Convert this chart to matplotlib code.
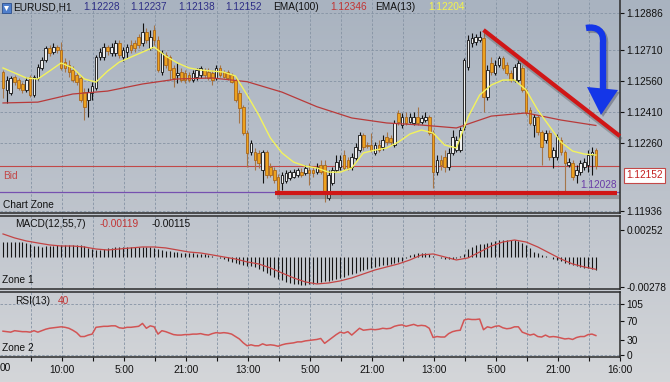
# -*- coding: utf-8 -*-
"""
EURUSD H1 chart, MT4 style: candles with EMA(100) / EMA(13), MACD(12,55,7) pane
and RSI(13) pane, plus the hand-drawn trend lines and arrow.
Writes: out.png (670x382)
"""
import numpy as np
import matplotlib
matplotlib.use("Agg")
import matplotlib.pyplot as plt
import matplotlib.patheffects as pe
from matplotlib.colors import LinearSegmentedColormap
from matplotlib.path import Path
from matplotlib.patches import PathPatch, Polygon, Rectangle

plt.rcParams["font.family"] = ["Liberation Sans", "DejaVu Sans"]

# ---- price data (one H1 bar per entry) ----
open_ = [
    1.12602, 1.12516, 1.12502, 1.12578, 1.12564, 1.12545, 1.12516, 1.12578, 1.12492, 1.12574,
    1.12622, 1.12660, 1.12718, 1.12698, 1.12722, 1.12708, 1.12650, 1.12636, 1.12612, 1.12588,
    1.12574, 1.12506, 1.12468, 1.12502, 1.12526, 1.12674, 1.12674, 1.12722, 1.12694, 1.12694,
    1.12742, 1.12674, 1.12698, 1.12732, 1.12742, 1.12770, 1.12742, 1.12794, 1.12718, 1.12804,
    1.12756, 1.12602, 1.12684, 1.12674, 1.12622, 1.12588, 1.12602, 1.12598, 1.12588, 1.12564,
    1.12578, 1.12588, 1.12612, 1.12602, 1.12598, 1.12574, 1.12622, 1.12602, 1.12602, 1.12588,
    1.12564, 1.12502, 1.12434, 1.12310, 1.12218, 1.12218, 1.12214, 1.12132, 1.12218, 1.12146,
    1.12132, 1.12098, 1.12070, 1.12079, 1.12094, 1.12098, 1.12108, 1.12122, 1.12118, 1.12132,
    1.12132, 1.12122, 1.12156, 1.12156, 1.11998, 1.12070, 1.12132, 1.12146, 1.12204, 1.12180,
    1.12146, 1.12190, 1.12228, 1.12300, 1.12252, 1.12252, 1.12214, 1.12252, 1.12242, 1.12290,
    1.12286, 1.12252, 1.12406, 1.12348, 1.12386, 1.12362, 1.12358, 1.12386, 1.12362, 1.12372,
    1.12386, 1.12310, 1.12122, 1.12180, 1.12194, 1.12146, 1.12214, 1.12228, 1.12228, 1.12338,
    1.12626, 1.12742, 1.12746, 1.12756, 1.12766, 1.12482, 1.12646, 1.12598, 1.12636, 1.12670,
    1.12636, 1.12598, 1.12564, 1.12564, 1.12622, 1.12516, 1.12420, 1.12348, 1.12386, 1.12314,
    1.12276, 1.12310, 1.12194, 1.12194, 1.12276, 1.12218, 1.12156, 1.12166, 1.12108, 1.12122,
    1.12146, 1.12156, 1.12204, 1.12228,
]
high = [
    1.12612, 1.12583, 1.12583, 1.12588, 1.12574, 1.12554, 1.12578, 1.12588, 1.12588, 1.12641,
    1.12674, 1.12727, 1.12732, 1.12742, 1.12732, 1.12746, 1.12670, 1.12660, 1.12631, 1.12602,
    1.12583, 1.12526, 1.12526, 1.12554, 1.12684, 1.12718, 1.12742, 1.12732, 1.12742, 1.12756,
    1.12756, 1.12722, 1.12737, 1.12756, 1.12756, 1.12785, 1.12838, 1.12814, 1.12804, 1.12828,
    1.12775, 1.12708, 1.12698, 1.12684, 1.12636, 1.12646, 1.12622, 1.12612, 1.12602, 1.12612,
    1.12622, 1.12631, 1.12622, 1.12622, 1.12612, 1.12636, 1.12636, 1.12612, 1.12612, 1.12598,
    1.12574, 1.12516, 1.12444, 1.12324, 1.12276, 1.12238, 1.12228, 1.12228, 1.12228, 1.12166,
    1.12146, 1.12113, 1.12122, 1.12132, 1.12132, 1.12137, 1.12142, 1.12142, 1.12156, 1.12166,
    1.12146, 1.12166, 1.12180, 1.12180, 1.12132, 1.12146, 1.12204, 1.12204, 1.12228, 1.12194,
    1.12214, 1.12262, 1.12314, 1.12310, 1.12266, 1.12310, 1.12266, 1.12276, 1.12300, 1.12314,
    1.12300, 1.12372, 1.12420, 1.12406, 1.12410, 1.12406, 1.12410, 1.12434, 1.12396, 1.12410,
    1.12396, 1.12324, 1.12204, 1.12204, 1.12228, 1.12238, 1.12324, 1.12295, 1.12338, 1.12670,
    1.12780, 1.12790, 1.12785, 1.12799, 1.12804, 1.12636, 1.12674, 1.12660, 1.12679, 1.12679,
    1.12650, 1.12612, 1.12641, 1.12660, 1.12636, 1.12526, 1.12434, 1.12401, 1.12396, 1.12324,
    1.12324, 1.12324, 1.12242, 1.12305, 1.12290, 1.12228, 1.12190, 1.12180, 1.12156, 1.12180,
    1.12190, 1.12228, 1.12242, 1.12237,
]
low = [
    1.12478, 1.12454, 1.12492, 1.12540, 1.12516, 1.12502, 1.12506, 1.12482, 1.12482, 1.12564,
    1.12612, 1.12650, 1.12679, 1.12689, 1.12694, 1.12612, 1.12602, 1.12578, 1.12554, 1.12540,
    1.12458, 1.12372, 1.12386, 1.12468, 1.12516, 1.12660, 1.12660, 1.12684, 1.12679, 1.12679,
    1.12670, 1.12655, 1.12670, 1.12694, 1.12698, 1.12718, 1.12727, 1.12742, 1.12708, 1.12732,
    1.12602, 1.12588, 1.12622, 1.12564, 1.12530, 1.12550, 1.12554, 1.12550, 1.12554, 1.12554,
    1.12564, 1.12574, 1.12574, 1.12564, 1.12540, 1.12564, 1.12578, 1.12574, 1.12564, 1.12550,
    1.12458, 1.12358, 1.12300, 1.12146, 1.12204, 1.12132, 1.12142, 1.12070, 1.12094, 1.12098,
    1.12070, 1.12022, 1.12036, 1.12070, 1.12084, 1.12094, 1.12098, 1.12098, 1.12108, 1.12060,
    1.12098, 1.12113, 1.12113, 1.11978, 1.11988, 1.12060, 1.12122, 1.12132, 1.12132, 1.12132,
    1.12132, 1.12180, 1.12218, 1.12228, 1.12238, 1.12218, 1.12204, 1.12218, 1.12228, 1.12252,
    1.12252, 1.12242, 1.12348, 1.12334, 1.12348, 1.12358, 1.12348, 1.12348, 1.12353, 1.12362,
    1.12300, 1.12046, 1.12108, 1.12132, 1.12122, 1.12132, 1.12204, 1.12218, 1.12218, 1.12324,
    1.12612, 1.12722, 1.12732, 1.12746, 1.12410, 1.12468, 1.12588, 1.12588, 1.12626, 1.12612,
    1.12588, 1.12554, 1.12554, 1.12554, 1.12506, 1.12396, 1.12348, 1.12290, 1.12300, 1.12156,
    1.12262, 1.12180, 1.12142, 1.12180, 1.12204, 1.12026, 1.12146, 1.12084, 1.12070, 1.12108,
    1.12132, 1.12122, 1.12108, 1.12138,
]
close = [
    1.12526, 1.12564, 1.12574, 1.12554, 1.12526, 1.12516, 1.12564, 1.12492, 1.12578, 1.12626,
    1.12660, 1.12718, 1.12694, 1.12722, 1.12708, 1.12622, 1.12622, 1.12602, 1.12564, 1.12554,
    1.12468, 1.12434, 1.12506, 1.12535, 1.12674, 1.12698, 1.12722, 1.12703, 1.12722, 1.12742,
    1.12684, 1.12708, 1.12722, 1.12708, 1.12718, 1.12732, 1.12794, 1.12756, 1.12770, 1.12756,
    1.12612, 1.12694, 1.12636, 1.12612, 1.12574, 1.12598, 1.12564, 1.12564, 1.12564, 1.12598,
    1.12612, 1.12622, 1.12588, 1.12574, 1.12564, 1.12622, 1.12588, 1.12578, 1.12574, 1.12554,
    1.12468, 1.12430, 1.12310, 1.12214, 1.12262, 1.12180, 1.12166, 1.12218, 1.12108, 1.12108,
    1.12084, 1.12036, 1.12108, 1.12118, 1.12122, 1.12122, 1.12132, 1.12108, 1.12142, 1.12118,
    1.12118, 1.12146, 1.12122, 1.12026, 1.12108, 1.12132, 1.12170, 1.12180, 1.12142, 1.12142,
    1.12194, 1.12242, 1.12300, 1.12242, 1.12247, 1.12228, 1.12252, 1.12228, 1.12276, 1.12266,
    1.12266, 1.12358, 1.12362, 1.12386, 1.12358, 1.12386, 1.12386, 1.12358, 1.12382, 1.12386,
    1.12310, 1.12122, 1.12180, 1.12156, 1.12146, 1.12214, 1.12290, 1.12276, 1.12324, 1.12660,
    1.12756, 1.12766, 1.12770, 1.12770, 1.12482, 1.12612, 1.12602, 1.12636, 1.12670, 1.12622,
    1.12598, 1.12564, 1.12626, 1.12646, 1.12516, 1.12406, 1.12358, 1.12386, 1.12314, 1.12242,
    1.12310, 1.12194, 1.12228, 1.12290, 1.12218, 1.12166, 1.12170, 1.12098, 1.12132, 1.12166,
    1.12170, 1.12204, 1.12218, 1.12152,
]

# EMA(13) sampled every 3 bars, EMA(100) every 9 bars
ema13 = [
    1.12622, 1.12598, 1.12574, 1.12569, 1.12607, 1.12646, 1.12622, 1.12569, 1.12554, 1.12607,
    1.12650, 1.12674, 1.12698, 1.12722, 1.12679, 1.12646, 1.12622, 1.12612, 1.12607, 1.12602,
    1.12583, 1.12492, 1.12396, 1.12286, 1.12214, 1.12170, 1.12151, 1.12142, 1.12122, 1.12122,
    1.12142, 1.12214, 1.12228, 1.12238, 1.12266, 1.12305, 1.12324, 1.12310, 1.12252, 1.12238,
    1.12386, 1.12492, 1.12540, 1.12564, 1.12564, 1.12516, 1.12420, 1.12343, 1.12266, 1.12223,
    1.12209, 1.12204,
]
ema100 = [
    1.12454, 1.12458, 1.12497, 1.12511, 1.12545, 1.12569, 1.12574, 1.12556, 1.12506, 1.12436,
    1.12382, 1.12358, 1.12348, 1.12334, 1.12391, 1.12406, 1.12372, 1.12346,
]

# MACD(12,55,7): histogram per bar, signal sampled every 3 bars
macd_hist = [
    0.00140, 0.00140, 0.00138, 0.00137, 0.00136, 0.00135, 0.00130, 0.00118, 0.00105, 0.00098,
    0.00095, 0.00098, 0.00102, 0.00106, 0.00109, 0.00110, 0.00111, 0.00111, 0.00110, 0.00110,
    0.00108, 0.00098, 0.00085, 0.00075, 0.00068, 0.00065, 0.00072, 0.00080, 0.00086, 0.00090,
    0.00092, 0.00094, 0.00095, 0.00095, 0.00094, 0.00092, 0.00093, 0.00092, 0.00090, 0.00082,
    0.00073, 0.00068, 0.00060, 0.00052, 0.00046, 0.00042, 0.00039, 0.00036, 0.00034, 0.00033,
    0.00031, 0.00030, 0.00025, 0.00015, 0.00005, -0.00002, -0.00012, -0.00022, -0.00035, -0.00048,
    -0.00058, -0.00066, -0.00076, -0.00083, -0.00088, -0.00093, -0.00108, -0.00130, -0.00150, -0.00170,
    -0.00188, -0.00205, -0.00218, -0.00230, -0.00240, -0.00248, -0.00255, -0.00259, -0.00260, -0.00255,
    -0.00248, -0.00240, -0.00235, -0.00228, -0.00220, -0.00212, -0.00205, -0.00195, -0.00185, -0.00172,
    -0.00158, -0.00145, -0.00130, -0.00120, -0.00110, -0.00100, -0.00092, -0.00085, -0.00078, -0.00072,
    -0.00065, -0.00055, -0.00048, -0.00040, -0.00010, 0.00015, 0.00030, 0.00038, 0.00040, 0.00035,
    0.00030, 0.00010, -0.00005, -0.00012, -0.00016, -0.00018, -0.00015, -0.00008, 0.00005, 0.00030,
    0.00070, 0.00095, 0.00110, 0.00118, 0.00125, 0.00132, 0.00140, 0.00148, 0.00155, 0.00160,
    0.00160, 0.00158, 0.00155, 0.00145, 0.00130, 0.00110, 0.00080, 0.00050, 0.00035, 0.00020,
    0.00008, -0.00005, -0.00018, -0.00030, -0.00042, -0.00055, -0.00065, -0.00075, -0.00085, -0.00093,
    -0.00100, -0.00107, -0.00113, -0.00119,
]
macd_signal = [
    0.00214, 0.00177, 0.00149, 0.00130, 0.00112, 0.00102, 0.00102, 0.00093, 0.00074, 0.00065,
    0.00074, 0.00084, 0.00093, 0.00093, 0.00084, 0.00065, 0.00046, 0.00037, 0.00019, 0.00000,
    -0.00019, -0.00046, -0.00065, -0.00102, -0.00149, -0.00195, -0.00232, -0.00251, -0.00242, -0.00223,
    -0.00195, -0.00158, -0.00121, -0.00093, -0.00065, -0.00028, 0.00019, 0.00028, 0.00000, -0.00028,
    -0.00009, 0.00046, 0.00102, 0.00139, 0.00158, 0.00139, 0.00093, 0.00037, -0.00019, -0.00065,
    -0.00093, -0.00115,
]

# RSI(13) per bar
rsi = [
    49, 48, 47, 50, 49, 48, 48, 47, 50, 47,
    50, 53, 55, 56, 57, 58, 57, 55, 51, 46,
    38, 38, 41, 43, 57, 58, 59, 59, 60, 60,
    56, 55, 57, 57, 58, 59, 65, 55, 60, 58,
    43, 50, 48, 45, 42, 41, 41, 42, 42, 43,
    43, 44, 42, 41, 44, 46, 45, 46, 45, 43,
    38, 33, 25, 19, 21, 19, 19, 23, 20, 21,
    20, 18, 21, 23, 24, 25, 27, 27, 29, 30,
    31, 32, 34, 24, 30, 36, 42, 47, 45, 48,
    41, 48, 55, 51, 52, 53, 52, 53, 55, 54,
    55, 59, 61, 62, 59, 61, 63, 60, 61, 60,
    55, 36, 38, 37, 37, 44, 48, 50, 51, 72,
    74, 73, 73, 74, 52, 58, 56, 59, 60, 56,
    54, 55, 58, 58, 47, 44, 41, 43, 38, 37,
    41, 37, 38, 37, 35, 33, 34, 32, 36, 38,
    38, 42, 43, 40,
]

price_ticks = [1.12886, 1.12710, 1.12560, 1.12410, 1.12260, 1.11936]
macd_ticks = [0.00252, -0.00278]
rsi_ticks = [105, 70, 30, 0]
time_labels = ["10:00", "5:00", "21:00", "13:00", "5:00", "21:00", "13:00", "5:00", "21:00", "16:00"]

bid = 1.12152
level_1 = 1.12028                       # purple horizontal level
support = (70.3, 158.5, 1.12020)        # bar from, bar to, price
trend = ((124, 1.12804), (159.2, 1.12295))

# ---- layout (pixels of the 670x382 canvas) ----
W, H = 670, 382
FS = 7.3
BAR_PX = 3.875
XMIN, XMAX = -3 / BAR_PX, 617 / BAR_PX
GRID_X = XMIN + 8 * np.arange(1, 20)
LABEL_X = XMIN + 16 * np.arange(1, 11)
GRID_C = "#8593a4"


def fxy(x, y):
    return x / W, 1 - y / H


def panel(fig, top, bottom):
    a = fig.add_axes([0, 1 - bottom / H, 620 / W, (bottom - top) / H])
    a.patch.set_alpha(0)
    a.set_xlim(XMIN, XMAX)
    for s in ("top", "bottom", "right"):
        a.spines[s].set_color("#2b2b2b")
        a.spines[s].set_linewidth(1.1)
    a.spines["left"].set_visible(False)
    a.yaxis.tick_right()
    a.tick_params(axis="y", length=3, width=0.8, pad=1.5, labelsize=FS, colors="#111111")
    a.tick_params(axis="x", bottom=False, labelbottom=False)
    for g in GRID_X:
        a.axvline(g, color=GRID_C, lw=0.6, ls=(0, (3, 2)), zorder=0)
    return a


def main():
    fig = plt.figure(figsize=(W / 100, H / 100), dpi=100)

    bg = fig.add_axes([0, 0, 1, 1], zorder=-10)
    cmap = LinearSegmentedColormap.from_list("bg", ["#a9b3c0", "#bcc2cb", "#d4d6d9"])
    bg.imshow(np.linspace(0, 1, 256)[:, None], aspect="auto", cmap=cmap, extent=[0, 1, 0, 1])
    bg.set_axis_off()

    idx = np.arange(len(close))
    o, h, l, c = (np.array(v) for v in (open_, high, low, close))
    up = c >= o

    # ---- main chart ----
    ax = panel(fig, 0, 213)
    ax.spines["top"].set_visible(False)
    ax.set_ylim(1.11926, 1.12948)
    ax.set_yticks(price_ticks)
    ax.set_yticklabels([f"{v:.5f}" for v in price_ticks])
    for v in price_ticks:
        ax.axhline(v, color=GRID_C, lw=0.6, ls=(0, (3, 2)), zorder=0)

    ax.axhline(bid, color="#c24848", lw=0.8, zorder=2)
    ax.axhline(level_1, color="#7650b0", lw=0.9, zorder=2)

    ax.vlines(idx, l, h, colors=np.where(up, "#111111", "#a57548"), lw=0.8, zorder=3)
    body = np.maximum(np.abs(c - o), 0.000015)
    ax.bar(idx, body, 0.7, bottom=np.minimum(o, c),
           color=np.where(up, "#f0f0f0", "#eda21e"),
           edgecolor=np.where(up, "#111111", "#a8661c"), lw=0.6, zorder=4)

    ax.plot(idx[::9], ema100, color="#b83a3a", lw=0.9, zorder=5)
    ax.plot(idx[::3], ema13, color="#f3f35c", lw=1.0, zorder=5)

    shadow = [pe.SimpleLineShadow(offset=(1, -2.5), shadow_color="#505050", alpha=0.35), pe.Normal()]
    ax.plot(support[:2], [support[2]] * 2, color="#d01616", lw=3.0,
            solid_capstyle="butt", zorder=6, path_effects=shadow)
    ax.plot([trend[0][0], trend[1][0]], [trend[0][1], trend[1][1]], color="#d01616", lw=3.0,
            solid_capstyle="butt", zorder=6, path_effects=shadow, clip_on=False)

    # ---- MACD pane ----
    ax2 = panel(fig, 216, 289)
    ax2.set_ylim(-0.00298, 0.00381)
    ax2.vlines(idx, 0, macd_hist, colors="#151515", lw=0.8, zorder=3)
    ax2.plot(idx[::3], macd_signal, color="#c44444", lw=0.9, zorder=4)
    ax2.set_yticks(macd_ticks)
    ax2.set_yticklabels([f"{v:.5f}" for v in macd_ticks])

    # ---- RSI pane ----
    ax3 = panel(fig, 292, 357)
    ax3.set_ylim(-4.1, 129.6)
    for v in (105, 0):
        ax3.axhline(v, color=GRID_C, lw=0.6, ls=(0, (3, 2)), zorder=0)
    ax3.plot(idx, rsi, color="#d25454", lw=1.1, zorder=4)
    ax3.set_yticks(rsi_ticks)
    ax3.set_yticklabels([str(v) for v in rsi_ticks])
    ax3.set_xticks(LABEL_X)
    ax3.set_xticklabels(time_labels)
    ax3.set_xticks(GRID_X, minor=True)
    ax3.tick_params(axis="x", which="both", bottom=True, labelbottom=True, length=3,
                    width=0.8, pad=2.5, labelsize=FS, colors="#111111")
    fig.text(0, fxy(0, 368)[1], "00", fontsize=FS, ha="left", va="center", color="#111111")

    # ---- texts ----
    def t(x, y, s, color="#111111", **kw):
        fig.text(*fxy(x, y), s, fontsize=FS, color=color, va="center", **kw)

    fig.add_artist(Rectangle(fxy(2, 13), 9 / W, 10 / H, transform=fig.transFigure,
                             fc="#4f7fcc", ec="#2c4f8c", lw=0.6))
    fig.add_artist(Polygon([fxy(4, 6), fxy(9, 6), fxy(6.5, 11)], closed=True,
                           transform=fig.transFigure, fc="white", ec="none"))
    t(13, 7.5, "EURUSD,H1")
    for x, s in [(83, "1.12228"), (130, "1.12237"), (178, "1.12138"), (225, "1.12152")]:
        t(x, 7.5, s, color="#2e2e86")
    t(273, 7.5, "EMA(100)")
    t(330, 7.5, "1.12346", color="#c23434")
    t(375, 7.5, "EMA(13)")
    t(428, 7.5, "1.12204", color="#f4f44a")

    t(3, 176, "Bid", color="#c24848")
    t(3, 205, "Chart Zone")
    t(617, 185, "1.12028", color="#6a3ca8", ha="right")
    t(626, 175.5, "1.12152", color="#c42020",
      bbox=dict(boxstyle="square,pad=0.2", fc="white", ec="#c44848", lw=0.8))

    t(15, 224, "MACD(12,55,7)")
    t(100, 224, "-0.00119", color="#c23434")
    t(152, 224, "-0.00115")
    t(2, 280, "Zone 1")
    t(15, 301, "RSI(13)")
    t(58, 301, "40", color="#c23434")
    t(2, 348, "Zone 2")

    # ---- blue curved arrow ----
    hook = [fxy(586, 28), fxy(597, 26), fxy(604, 31), fxy(603, 43), fxy(603, 90)]
    codes = [Path.MOVETO, Path.CURVE4, Path.CURVE4, Path.CURVE4, Path.LINETO]
    head = [fxy(587, 87), fxy(618, 90), fxy(601, 115)]
    for dx, col, alpha in [(2, "#303040", 0.35), (0, "#1436e8", 1.0)]:
        off = np.array([dx / W, -dx / H])
        fig.add_artist(PathPatch(Path(np.array(hook) + off, codes), transform=fig.transFigure,
                                 fc="none", ec=col, lw=4.6, alpha=alpha, capstyle="butt"))
        fig.add_artist(Polygon(np.array(head) + off, closed=True, transform=fig.transFigure,
                               fc=col, ec="none", alpha=alpha))

    fig.savefig("out.png", dpi=100)


if __name__ == "__main__":
    main()
